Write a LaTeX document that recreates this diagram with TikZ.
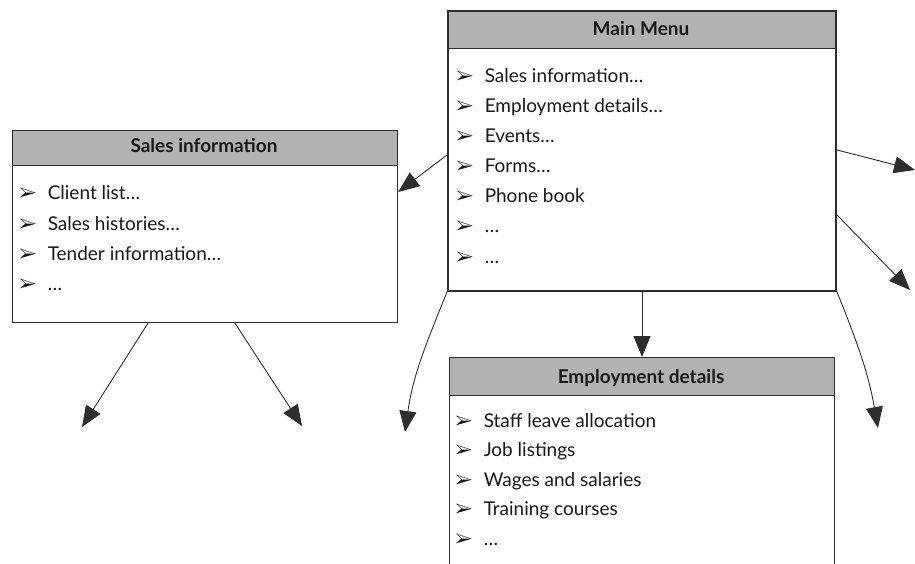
\documentclass[tikz,border=0pt]{standalone}
\usepackage{fontspec}
\setmainfont{Lato}
\usepackage{pifont}
\usetikzlibrary{arrows.meta,calc}
\definecolor{ink}{gray}{0.18}
\definecolor{hdr}{gray}{0.70}
\newcommand{\bul}{{\fontsize{19pt}{19pt}\selectfont\ding{226}}\hspace{11pt}}
\tikzset{
  x=1pt, y=1pt,
  frame/.style={draw=ink, line width=#1, inner sep=0pt, anchor=north west},
  hdrbar/.style={fill=hdr, draw=ink, line width=1pt, inner sep=0pt, anchor=north west},
  hdrtext/.style={font=\bfseries\fontsize{19pt}{19pt}\selectfont, text=black!90, inner sep=0pt, anchor=base},
  item/.style={font=\fontsize{19pt}{19pt}\selectfont, text=black!90, inner sep=0pt, anchor=base west},
  conn/.style={draw=ink, line width=0.9pt, -{Triangle[length=21pt,width=17pt]}},
}
\begin{document}
\begin{tikzpicture}
\useasboundingbox (0,0) rectangle (915,-564);
\begin{scope}
\clip (0,0) rectangle (915,-564);
\fill[white] (0,0) rectangle (915,-564);

% Main menu
\node[hdrbar, minimum width=388pt, minimum height=38pt] (mmh) at (447,-10) {};
\node[frame=2pt, minimum width=388pt, minimum height=280pt] (mm) at (447,-10) {};
\node[hdrtext] (mmt) at (641,-36) {Main Menu};
\node[item] (mm1) at (456,-83) {\bul Sales information…};
\node[item] (mm2) at (456,-113) {\bul Employment details…};
\node[item] (mm3) at (456,-143) {\bul Events…};
\node[item] (mm4) at (456,-173) {\bul Forms…};
\node[item] (mm5) at (456,-203) {\bul Phone book};
\node[item] (mm6) at (456,-233) {\bul …};
\node[item] (mm7) at (456,-263) {\bul …};

% Sales information
\node[hdrbar, minimum width=385pt, minimum height=35pt] (sih) at (12,-130) {};
\node[frame=1.2pt, minimum width=385pt, minimum height=192pt] (si) at (12,-130) {};
\node[hdrtext] (sit) at (204,-153) {Sales information};
\node[item] (si1) at (19,-200) {\bul Client list…};
\node[item] (si2) at (19,-230) {\bul Sales histories…};
\node[item] (si3) at (19,-260) {\bul Tender information…};
\node[item] (si4) at (19,-290) {\bul …};

% Employment details
\node[hdrbar, minimum width=385pt, minimum height=38pt] (edh) at (449,-357) {};
\node[frame=1.2pt, minimum width=385pt, minimum height=260pt] (ed) at (449,-357) {};
\node[hdrtext] (edt) at (641,-383) {Employment details};
\node[item] (ed1) at (455,-427) {\bul Staff leave allocation};
\node[item] (ed2) at (455,-456.5) {\bul Job listings};
\node[item] (ed3) at (455,-486) {\bul Wages and salaries};
\node[item] (ed4) at (455,-515.5) {\bul Training courses};
\node[item] (ed5) at (455,-545) {\bul …};

% free ends
\coordinate (r1) at (915,-170);
\coordinate (r2) at (910,-290);
\coordinate (r3) at (878,-428);
\coordinate (l3) at (405,-432);
\coordinate (b1) at (82,-427);
\coordinate (b2) at (302,-426);

% connectors
\draw[conn] ([yshift=-145pt]mm.north west) -- ([yshift=-62pt]si.north east);
\draw[conn] ([yshift=-140pt]mm.north east) -- (r1);
\draw[conn] ([yshift=-205pt]mm.north east) -- (r2);
\draw[conn] (mm.south east) to[out=292,in=100] (r3);
\draw[conn] (mm.south west) to[out=248,in=82] (l3);
\draw[conn] (mm.south) -- (mm.south |- ed.north);
\draw[conn] ([xshift=136pt]si.south west) -- (b1);
\draw[conn] ([xshift=223pt]si.south west) -- (b2);
\end{scope}
\end{tikzpicture}
\end{document}
